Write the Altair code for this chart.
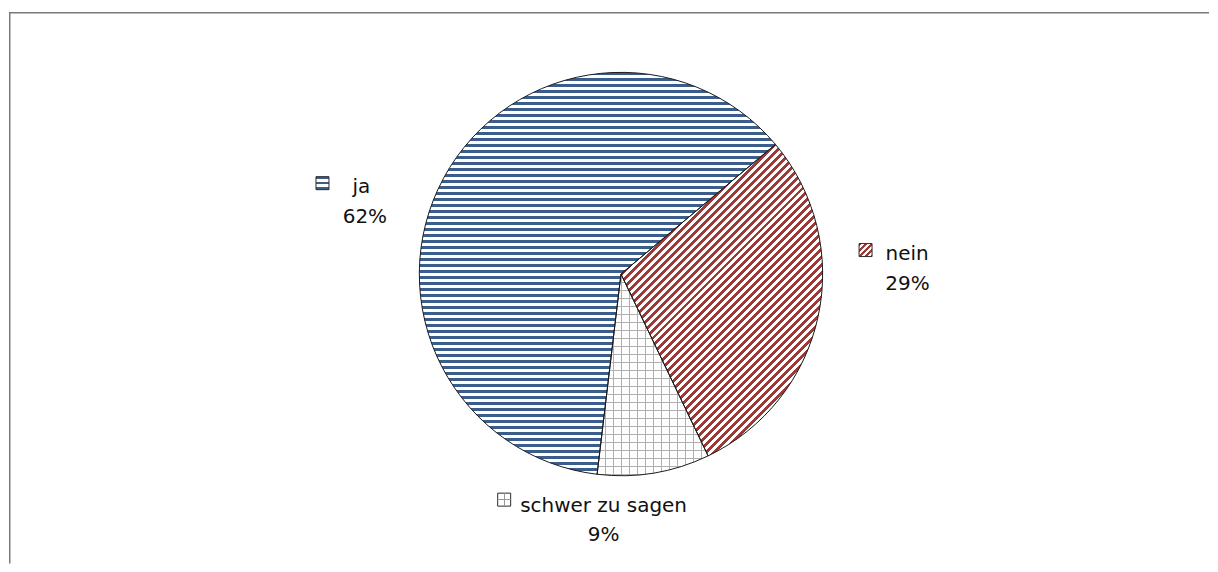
import math
import numpy as np
import pandas as pd
import altair as alt

# ---- data ----
categories = ["ja", "nein", "schwer zu sagen"]
values = [62, 29, 9]

# ---- styling / layout ----
clockwise = ["nein", "schwer zu sagen", "ja"]   # order of slices from the start angle
START_DEG = 50.0
R = 202
CX, CY = 613, 266
FONT = "DejaVu Sans"
FS = 20
TXT = "#111111"
BLUE = "#3b5d8b"
RED = "#9c3a37"
GRID = "#b0b0b0"
CLEAR = "rgba(255,255,255,0)"

df = pd.DataFrame({
    "cat": categories,
    "value": values,
    "pct": [f"{v}%" for v in values],
    "ord": [clockwise.index(c) for c in categories],
})

total = float(sum(values))


def slice_angles(cat):
    a = START_DEG
    for c in clockwise:
        span = values[categories.index(c)] / total * 360.0
        if c == cat:
            return a, a + span
        a += span


def slice_bbox(cat):
    a0, a1 = slice_angles(cat)
    ang = np.radians(np.linspace(a0, a1, 4000))
    xs = np.concatenate([R * np.sin(ang), [0.0]])
    ys = np.concatenate([-R * np.cos(ang), [0.0]])
    return xs.max() - xs.min(), ys.max() - ys.min()


def stripes(period_frac, line_frac, color, bg):
    stops = []
    k = 0
    while k * period_frac < 1.0:
        s = k * period_frac
        m = min(s + line_frac * period_frac, 1.0)
        e = min((k + 1) * period_frac, 1.0)
        stops += [
            alt.GradientStop(offset=s, color=color),
            alt.GradientStop(offset=m, color=color),
            alt.GradientStop(offset=m, color=bg),
            alt.GradientStop(offset=e, color=bg),
        ]
        k += 1
    return stops


def grad(stops, x2, y2):
    return alt.LinearGradient(gradient="linear", stops=stops, x1=0, y1=0, x2=x2, y2=y2)


def diag(W, H, period_px, color, bg):
    a = (W + H) / (W * W + H * H)
    return grad(stripes(period_px / (W + H), 0.5, color, bg), a * W, a * H)


# slice fills
W_ja, H_ja = slice_bbox("ja")
fill_ja = grad(stripes(6.0 / H_ja, 0.5, BLUE, "white"), 0, 1)
W_ne, H_ne = slice_bbox("nein")
fill_ne = diag(W_ne, H_ne, 8.0, RED, "white")
W_sz, H_sz = slice_bbox("schwer zu sagen")
fill_sz_h = grad(stripes(8.0 / H_sz, 1.0 / 8.0, GRID, CLEAR), 0, 1)
fill_sz_v = grad(stripes(8.0 / W_sz, 1.0 / 8.0, GRID, CLEAR), 1, 0)

base = alt.Chart(df).transform_stack(
    stack="value", groupby=[], as_=["v0", "v1"], sort=[alt.SortField("ord", order="ascending")]
)
theta_scale = alt.Scale(domain=[0, total],
                        range=[math.radians(START_DEG), math.radians(START_DEG) + 2 * math.pi])
arc_enc = dict(
    theta=alt.Theta("v0:Q", scale=theta_scale),
    theta2=alt.Theta2("v1:Q"),
    x=alt.value(CX),
    y=alt.value(CY),
)


def only(cat):
    return base.transform_filter(alt.datum.cat == cat)


layers = [
    only("ja").mark_arc(radius=R, fill=fill_ja, strokeWidth=0).encode(**arc_enc),
    only("nein").mark_arc(radius=R, fill=fill_ne, strokeWidth=0).encode(**arc_enc),
    only("schwer zu sagen").mark_arc(radius=R, fill="white", strokeWidth=0).encode(**arc_enc),
    only("schwer zu sagen").mark_arc(radius=R, fill=fill_sz_h, strokeWidth=0).encode(**arc_enc),
    only("schwer zu sagen").mark_arc(radius=R, fill=fill_sz_v, strokeWidth=0).encode(**arc_enc),
    base.mark_arc(radius=R, fill="white", fillOpacity=0, stroke="#1a1a1a", strokeWidth=1).encode(**arc_enc),
]

# ---- data labels with legend keys ----
KEY = 13
label_layout = {
    # key centre, name left x / baseline, percent centre x / baseline
    "ja": dict(kx=314, ky=175, nx=344, ny=185, px=356.5, py=215),
    "nein": dict(kx=858, ky=242, nx=878, ny=252, px=900, py=282),
    "schwer zu sagen": dict(kx=496, ky=492, nx=512, ny=504, px=595.5, py=533),
}
key_fill = {
    "ja": [grad(stripes(0.4, 0.5, BLUE, "white"), 0, 1)],
    "nein": [diag(KEY, KEY, 6.0, RED, "white")],
    "schwer zu sagen": [
        "white",
        grad([alt.GradientStop(offset=0, color=CLEAR), alt.GradientStop(offset=0.46, color=CLEAR),
              alt.GradientStop(offset=0.46, color="#999999"), alt.GradientStop(offset=0.54, color="#999999"),
              alt.GradientStop(offset=0.54, color=CLEAR), alt.GradientStop(offset=1, color=CLEAR)], 0, 1),
        grad([alt.GradientStop(offset=0, color=CLEAR), alt.GradientStop(offset=0.46, color=CLEAR),
              alt.GradientStop(offset=0.46, color="#999999"), alt.GradientStop(offset=0.54, color="#999999"),
              alt.GradientStop(offset=0.54, color=CLEAR), alt.GradientStop(offset=1, color=CLEAR)], 1, 0),
    ],
}

for cat in categories:
    L = label_layout[cat]
    src = only(cat)
    fills = key_fill[cat]
    for i, f in enumerate(fills):
        if i == 0:
            mk = src.mark_square(size=KEY * KEY, fill=f, fillOpacity=1, stroke="#2a2a2a", strokeWidth=1)
        else:
            mk = src.mark_square(size=KEY * KEY, fill=f, fillOpacity=1, strokeWidth=0)
        layers.append(mk.encode(x=alt.value(L["kx"]), y=alt.value(L["ky"])))
    layers.append(
        src.mark_text(font=FONT, fontSize=FS, color=TXT, align="left", baseline="alphabetic").encode(
            x=alt.value(L["nx"]), y=alt.value(L["ny"]), text="cat:N")
    )
    layers.append(
        src.mark_text(font=FONT, fontSize=FS, color=TXT, align="center", baseline="alphabetic").encode(
            x=alt.value(L["px"]), y=alt.value(L["py"]), text="pct:N")
    )

# ---- frame (left and top edges visible in the reference) ----
W_CH, H_CH = 1202, 556
frame = alt.Chart(df).transform_filter(alt.datum.cat == "ja")
layers.append(frame.mark_rule(color="#7a7a7a", strokeWidth=1.5).encode(
    x=alt.value(0.75), y=alt.value(4), y2=alt.value(H_CH)))
layers.append(frame.mark_rule(color="#7a7a7a", strokeWidth=1.5).encode(
    x=alt.value(0), x2=alt.value(W_CH), y=alt.value(4.2)))

chart = alt.layer(*layers).properties(
    width=W_CH, height=H_CH, padding=0
).configure_view(stroke="transparent")

chart.save("out.html", embed_options={"renderer": "svg", "actions": False})
